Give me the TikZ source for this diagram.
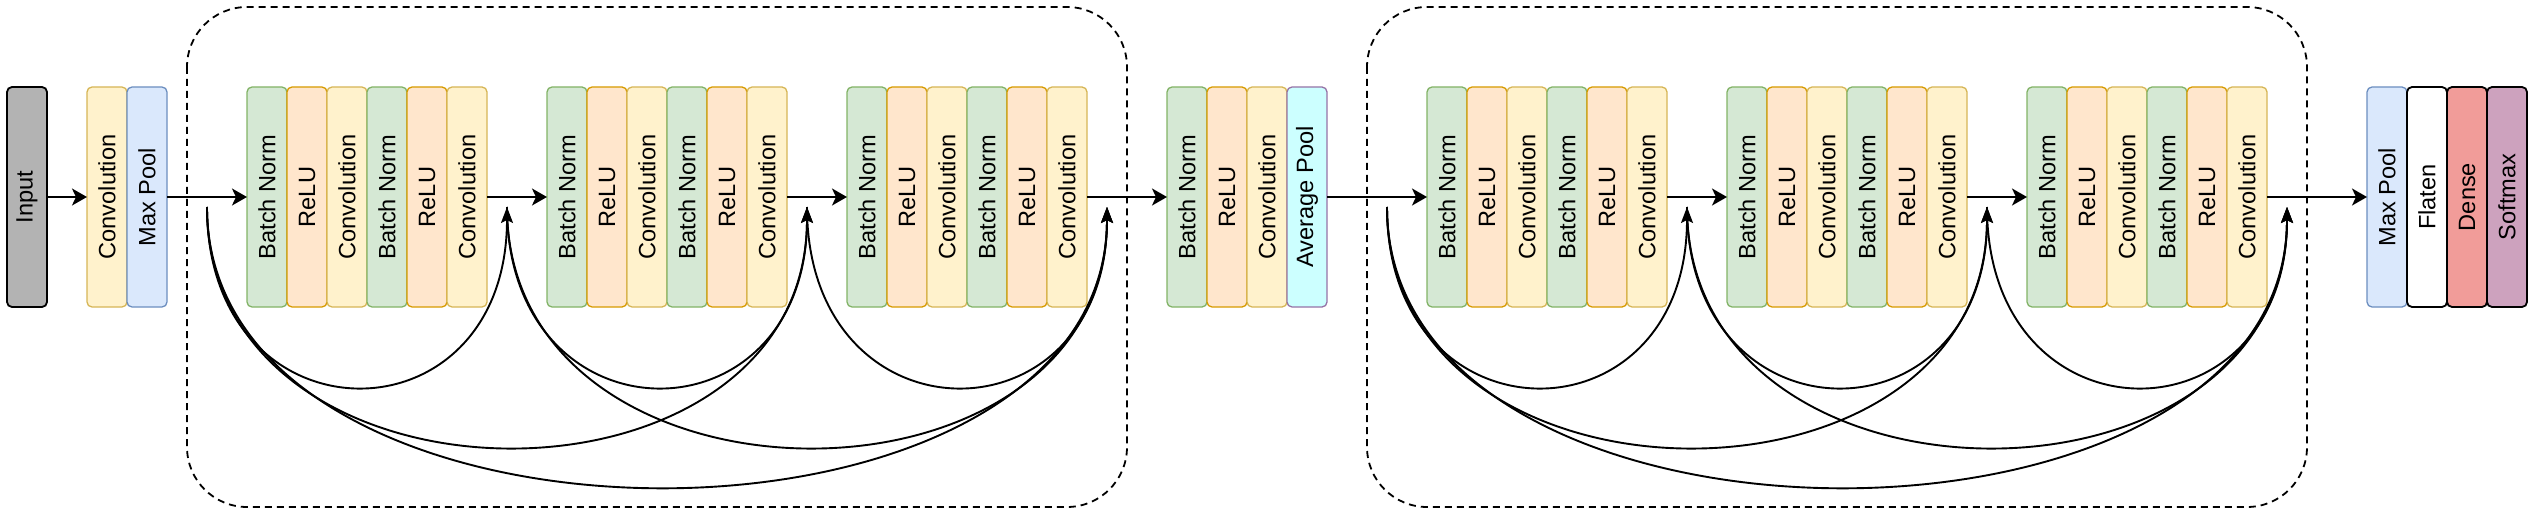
\documentclass[tikz,border=0pt]{standalone}
\usepackage{fontspec}
\setmainfont{Liberation Sans}
\usepackage{xcolor}
\usetikzlibrary{positioning,arrows.meta}

\definecolor{convfill}{HTML}{FFF2CC}
\definecolor{convline}{HTML}{D6B656}
\definecolor{bnfill}{HTML}{D5E8D4}
\definecolor{bnline}{HTML}{82B366}
\definecolor{relufill}{HTML}{FFE6CC}
\definecolor{reluline}{HTML}{D79B00}
\definecolor{poolfill}{HTML}{DAE8FC}
\definecolor{poolline}{HTML}{6C8EBF}
\definecolor{avgfill}{HTML}{CCFFFF}
\definecolor{avgline}{HTML}{9673A6}
\definecolor{inputfill}{HTML}{B3B3B3}
\definecolor{densefill}{HTML}{F19C99}
\definecolor{softfill}{HTML}{CDA2BE}

\tikzset{
    layer/.style={draw, rotate=90, rounded corners=5pt, line width=1.3pt,
        minimum width=220pt, minimum height=40pt, inner sep=0pt, outer sep=0pt,
        font=\fontsize{23.6}{28}\selectfont},
    convbox/.style={layer, fill=convfill, draw=convline},
    bnbox/.style={layer, fill=bnfill, draw=bnline},
    relubox/.style={layer, fill=relufill, draw=reluline},
    maxbox/.style={layer, fill=poolfill, draw=poolline},
    avgbox/.style={layer, fill=avgfill, draw=avgline},
    inputbox/.style={layer, fill=inputfill, draw=black, line width=1.8pt},
    flatbox/.style={layer, fill=white, draw=black, line width=1.8pt},
    densebox/.style={layer, fill=densefill, draw=black, line width=1.8pt},
    softbox/.style={layer, fill=softfill, draw=black, line width=1.8pt},
    flow/.style={line width=2pt, -{Stealth[length=15pt, width=17pt, inset=4pt]}},
    skip/.style={line width=1.9pt, -{Stealth[length=16pt, width=12pt, inset=3pt]}},
    group/.style={draw, dash pattern=on 7pt off 5pt, line width=1.8pt, rounded corners=60pt}
}

\begin{document}
\begin{tikzpicture}[x=1pt, y=1pt]
    % Canvas
    \useasboundingbox (0,-317) rectangle (2536,197);

    % Stem
    \node[inputbox] (input) at (27,0) {Input};
    \node[convbox] (stemconv) at (107,0) {Convolution};
    \node[maxbox] (stempool) at (147,0) {Max Pool};
    \draw[flow] (input) -- (stemconv);

    % Residual groups, three blocks each
    \foreach \g/\gx in {1/0, 2/1180} {
        \draw[group] (\gx+187,190) rectangle (\gx+1127,-310);
        \foreach \k in {1,2,3} {
            \foreach \i/\sty/\lbl in {1/bnbox/Batch Norm, 2/relubox/ReLU, 3/convbox/Convolution,
                                      4/bnbox/Batch Norm, 5/relubox/ReLU, 6/convbox/Convolution}
                \node[\sty] (r\g\k\i) at (\gx-73+300*\k+40*\i, 0) {\lbl};
            \coordinate (s\g\k) at (\gx-93+300*\k, -10);
        }
        \coordinate (s\g4) at (\gx+1107, -10);
        \draw[flow] (r\g16) -- (r\g21);
        \draw[flow] (r\g26) -- (r\g31);
        % shortcuts
        \foreach \a/\b/\h in {1/2/240, 2/3/240, 3/4/240, 1/3/320, 2/4/320, 1/4/373}
            \draw[skip] (s\g\a) .. controls +(0,-\h) and +(0,-\h) .. (s\g\b);
    }

    % Transition
    \node[bnbox] (tbn) at (1187,0) {Batch Norm};
    \node[relubox] (trelu) at (1227,0) {ReLU};
    \node[convbox] (tconv) at (1267,0) {Convolution};
    \node[avgbox] (tpool) at (1307,0) {Average Pool};

    % Head
    \node[maxbox] (hpool) at (2387,0) {Max Pool};
    \node[flatbox] (hflat) at (2427,0) {Flaten};
    \node[densebox] (hdense) at (2467,0) {Dense};
    \node[softbox] (hsoft) at (2507,0) {Softmax};

    \draw[flow] (stempool) -- (r111);
    \draw[flow] (r136) -- (tbn);
    \draw[flow] (tpool) -- (r211);
    \draw[flow] (r236) -- (hpool);
\end{tikzpicture}
\end{document}
